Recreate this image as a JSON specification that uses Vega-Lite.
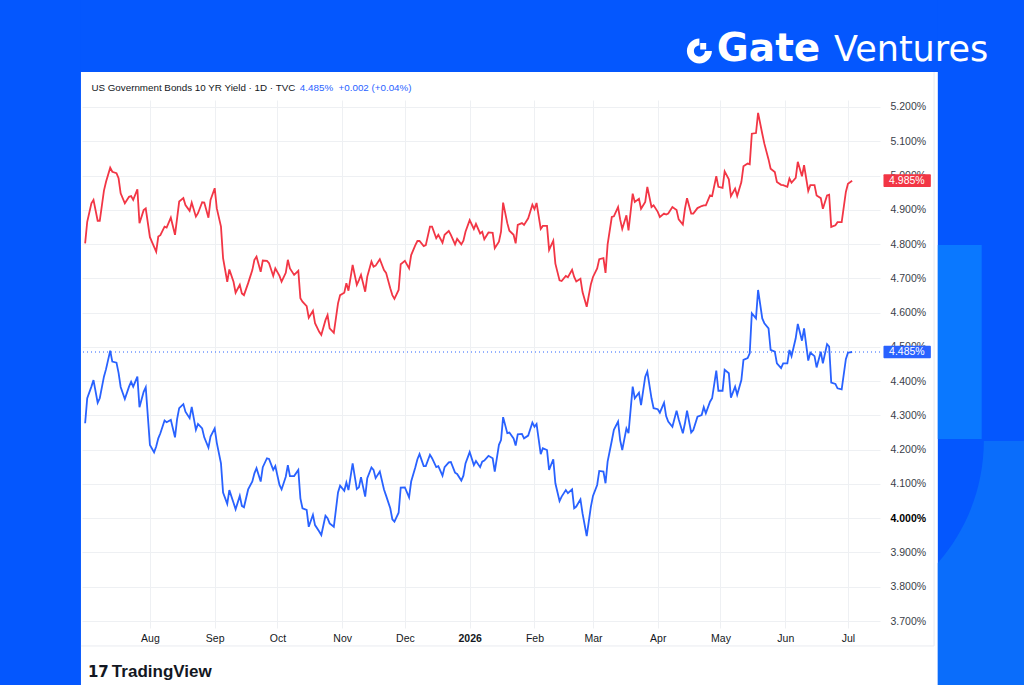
{
  "$schema": "https://vega.github.io/schema/vega-lite/v6.json",
  "width": 798,
  "height": 528,
  "autosize": {"type": "none"},
  "padding": {"left": 82, "top": 100, "right": 144, "bottom": 57},
  "background": "#ffffff",
  "config": {"view": {"stroke": null}, "font": "Liberation Sans"},
  "resolve": {"axis": {"x": "independent", "y": "independent"}},
  "layer": [
    {
      "data": {"values": [{}]},
      "mark": {"type": "rect", "color": "#0457fe"},
      "encoding": {
        "x": {"datum": {"year": 2025, "month": 5, "date": 1, "utc": true}, "type": "temporal", "axis": null},
        "x2": {"datum": {"year": 2026, "month": 10, "date": 15, "utc": true}},
        "y": {"datum": 5.302, "type": "quantitative", "axis": null},
        "y2": {"datum": 5.7}
      }
    },
    {
      "data": {"values": [{}]},
      "mark": {"type": "rect", "color": "#0457fe"},
      "encoding": {
        "x": {"datum": {"year": 2025, "month": 5, "date": 1, "utc": true}, "type": "temporal", "axis": null},
        "x2": {"datum": {"year": 2025, "month": 6, "date": 29, "utc": true}},
        "y": {"datum": 3.3, "type": "quantitative", "axis": null},
        "y2": {"datum": 5.7}
      }
    },
    {
      "data": {"values": [{}]},
      "mark": {"type": "rect", "color": "#0457fe"},
      "encoding": {
        "x": {"datum": {"year": 2026, "month": 8, "date": 13, "utc": true}, "type": "temporal", "axis": null},
        "x2": {"datum": {"year": 2026, "month": 10, "date": 15, "utc": true}},
        "y": {"datum": 3.3, "type": "quantitative", "axis": null},
        "y2": {"datum": 5.7}
      }
    },
    {
      "data": {"values": [{}]},
      "mark": {"type": "rect", "color": "#0a78ff"},
      "encoding": {
        "x": {"datum": {"year": 2026, "month": 8, "date": 13, "utc": true}, "type": "temporal", "axis": null},
        "x2": {"datum": {"year": 2026, "month": 9, "date": 3, "utc": true}},
        "y": {"datum": 4.231, "type": "quantitative", "axis": null},
        "y2": {"datum": 4.797}
      }
    },
    {
      "data": {"values": [{}]},
      "mark": {
        "type": "point",
        "shape": "M46,0L100,0L100,260L0,260L0,122A185,185,0,0,0,46,0Z",
        "size": 4,
        "filled": true,
        "opacity": 1,
        "strokeWidth": 0,
        "color": "#0a6dfb"
      },
      "encoding": {
        "x": {"datum": {"year": 2026, "month": 8, "date": 13, "utc": true}, "type": "temporal", "axis": null},
        "y": {"datum": 4.2254, "type": "quantitative", "axis": null}
      }
    },
    {
      "data": {"values": [{}]},
      "mark": {
        "type": "point",
        "shape": "M12.5,0A12.5,12.5,0,1,1,0,-12.5L0,-5.5A5.5,5.5,0,1,0,5.5,0ZM0.8,-8L6.8,-8L6.8,-1.6L0.8,-1.6Z",
        "size": 4,
        "filled": true,
        "opacity": 1,
        "strokeWidth": 0,
        "color": "#ffffff"
      },
      "encoding": {
        "x": {"datum": {"year": 2026, "month": 4, "date": 20, "hours": 22, "utc": true}, "type": "temporal", "axis": null},
        "y": {"datum": 5.3634, "type": "quantitative", "axis": null}
      }
    },
    {
      "data": {"values": [{}]},
      "mark": {"type": "text", "text": "Gate", "font": "DejaVu Sans", "fontWeight": "bold", "fontSize": 39, "color": "#ffffff", "align": "center", "baseline": "alphabetic"},
      "encoding": {
        "x": {"datum": {"year": 2026, "month": 5, "date": 24, "utc": true}, "type": "temporal", "axis": null},
        "y": {"datum": 5.334, "type": "quantitative", "axis": null}
      }
    },
    {
      "data": {"values": [{}]},
      "mark": {"type": "text", "text": "Ventures", "font": "DejaVu Sans", "fontSize": 35, "color": "#ffffff", "align": "left", "baseline": "alphabetic"},
      "encoding": {
        "x": {"datum": {"year": 2026, "month": 6, "date": 24, "hours": 7, "utc": true}, "type": "temporal", "axis": null},
        "y": {"datum": 5.334, "type": "quantitative", "axis": null}
      }
    },
    {
      "data": {"values": [{}]},
      "mark": {"type": "rule", "color": "#e9ebf0", "strokeWidth": 1},
      "encoding": {
        "x": {"datum": {"year": 2025, "month": 6, "date": 29, "utc": true}, "type": "temporal", "axis": null},
        "x2": {"datum": {"year": 2026, "month": 8, "date": 11, "hours": 5, "utc": true}},
        "y": {"datum": 3.6272, "type": "quantitative", "axis": null}
      }
    },
    {
      "data": {"values": [{}]},
      "mark": {"type": "rule", "color": "#e9ebf0", "strokeWidth": 1},
      "encoding": {
        "x": {"datum": {"year": 2026, "month": 8, "date": 11, "hours": 5, "utc": true}, "type": "temporal", "axis": null},
        "y": {"datum": 3.6272, "type": "quantitative", "axis": null},
        "y2": {"datum": 5.302}
      }
    },
    {
      "data": {"values": [{}]},
      "mark": {"type": "text", "text": "US Government Bonds 10 YR Yield · 1D · TVC", "fontSize": 9.8, "color": "#131722", "align": "left", "baseline": "middle"},
      "encoding": {
        "x": {"datum": {"year": 2025, "month": 7, "date": 4, "utc": true}, "type": "temporal", "axis": null},
        "y": {"datum": 5.2554, "type": "quantitative", "axis": null}
      }
    },
    {
      "data": {"values": [{}]},
      "mark": {"type": "text", "text": "4.485%\u00a0 +0.002 (+0.04%)", "fontSize": 9.8, "color": "#2962ff", "align": "left", "baseline": "middle"},
      "encoding": {
        "x": {"datum": {"year": 2025, "month": 10, "date": 11, "hours": 18, "utc": true}, "type": "temporal", "axis": null},
        "y": {"datum": 5.2554, "type": "quantitative", "axis": null}
      }
    },
    {
      "data": {"values": [{}]},
      "mark": {"type": "rule", "color": "#2962ff", "strokeWidth": 1, "strokeDash": [1, 3]},
      "encoding": {
        "y": {"datum": 4.485, "type": "quantitative", "axis": null}
      }
    },
    {
      "data": {
        "values": [
          {"date": "2025-07-01", "US30Y": 4.802, "US10Y": 4.277},
          {"date": "2025-07-02", "US30Y": 4.865, "US10Y": 4.350},
          {"date": "2025-07-04", "US30Y": 4.919, "US10Y": 4.384},
          {"date": "2025-07-05", "US30Y": 4.929, "US10Y": 4.403},
          {"date": "2025-07-07", "US30Y": 4.868, "US10Y": 4.337},
          {"date": "2025-07-08", "US30Y": 4.868, "US10Y": 4.350},
          {"date": "2025-07-10", "US30Y": 4.956, "US10Y": 4.413},
          {"date": "2025-07-11", "US30Y": 4.982, "US10Y": 4.435},
          {"date": "2025-07-13", "US30Y": 5.023, "US10Y": 4.489},
          {"date": "2025-07-14", "US30Y": 5.011, "US10Y": 4.457},
          {"date": "2025-07-16", "US30Y": 5.007, "US10Y": 4.454},
          {"date": "2025-07-17", "US30Y": 4.992, "US10Y": 4.424},
          {"date": "2025-07-18", "US30Y": 4.948, "US10Y": 4.383},
          {"date": "2025-07-20", "US30Y": 4.919, "US10Y": 4.348},
          {"date": "2025-07-22", "US30Y": 4.938, "US10Y": 4.384},
          {"date": "2025-07-23", "US30Y": 4.940, "US10Y": 4.398},
          {"date": "2025-07-24", "US30Y": 4.929, "US10Y": 4.384},
          {"date": "2025-07-26", "US30Y": 4.960, "US10Y": 4.413},
          {"date": "2025-07-27", "US30Y": 4.861, "US10Y": 4.324},
          {"date": "2025-07-29", "US30Y": 4.899, "US10Y": 4.369},
          {"date": "2025-07-30", "US30Y": 4.904, "US10Y": 4.382},
          {"date": "2025-08-01", "US30Y": 4.820, "US10Y": 4.214},
          {"date": "2025-08-03", "US30Y": 4.792, "US10Y": 4.192},
          {"date": "2025-08-04", "US30Y": 4.778, "US10Y": 4.209},
          {"date": "2025-08-05", "US30Y": 4.822, "US10Y": 4.233},
          {"date": "2025-08-06", "US30Y": 4.826, "US10Y": 4.248},
          {"date": "2025-08-08", "US30Y": 4.851, "US10Y": 4.285},
          {"date": "2025-08-09", "US30Y": 4.848, "US10Y": 4.280},
          {"date": "2025-08-11", "US30Y": 4.877, "US10Y": 4.287},
          {"date": "2025-08-13", "US30Y": 4.827, "US10Y": 4.236},
          {"date": "2025-08-14", "US30Y": 4.875, "US10Y": 4.289},
          {"date": "2025-08-15", "US30Y": 4.924, "US10Y": 4.321},
          {"date": "2025-08-17", "US30Y": 4.934, "US10Y": 4.333},
          {"date": "2025-08-18", "US30Y": 4.914, "US10Y": 4.311},
          {"date": "2025-08-20", "US30Y": 4.897, "US10Y": 4.292},
          {"date": "2025-08-21", "US30Y": 4.921, "US10Y": 4.325},
          {"date": "2025-08-23", "US30Y": 4.880, "US10Y": 4.258},
          {"date": "2025-08-24", "US30Y": 4.890, "US10Y": 4.275},
          {"date": "2025-08-26", "US30Y": 4.922, "US10Y": 4.262},
          {"date": "2025-08-27", "US30Y": 4.921, "US10Y": 4.236},
          {"date": "2025-08-29", "US30Y": 4.877, "US10Y": 4.206},
          {"date": "2025-08-30", "US30Y": 4.929, "US10Y": 4.238},
          {"date": "2025-09-01", "US30Y": 4.963, "US10Y": 4.262},
          {"date": "2025-09-02", "US30Y": 4.904, "US10Y": 4.220},
          {"date": "2025-09-04", "US30Y": 4.851, "US10Y": 4.160},
          {"date": "2025-09-05", "US30Y": 4.759, "US10Y": 4.075},
          {"date": "2025-09-07", "US30Y": 4.690, "US10Y": 4.042},
          {"date": "2025-09-08", "US30Y": 4.726, "US10Y": 4.082},
          {"date": "2025-09-10", "US30Y": 4.690, "US10Y": 4.045},
          {"date": "2025-09-11", "US30Y": 4.658, "US10Y": 4.026},
          {"date": "2025-09-13", "US30Y": 4.681, "US10Y": 4.065},
          {"date": "2025-09-14", "US30Y": 4.656, "US10Y": 4.036},
          {"date": "2025-09-15", "US30Y": 4.651, "US10Y": 4.032},
          {"date": "2025-09-17", "US30Y": 4.686, "US10Y": 4.084},
          {"date": "2025-09-19", "US30Y": 4.724, "US10Y": 4.107},
          {"date": "2025-09-20", "US30Y": 4.754, "US10Y": 4.131},
          {"date": "2025-09-21", "US30Y": 4.763, "US10Y": 4.146},
          {"date": "2025-09-23", "US30Y": 4.719, "US10Y": 4.107},
          {"date": "2025-09-24", "US30Y": 4.752, "US10Y": 4.149},
          {"date": "2025-09-26", "US30Y": 4.751, "US10Y": 4.175},
          {"date": "2025-09-27", "US30Y": 4.744, "US10Y": 4.173},
          {"date": "2025-09-29", "US30Y": 4.707, "US10Y": 4.141},
          {"date": "2025-09-30", "US30Y": 4.729, "US10Y": 4.152},
          {"date": "2025-10-02", "US30Y": 4.707, "US10Y": 4.097},
          {"date": "2025-10-03", "US30Y": 4.690, "US10Y": 4.084},
          {"date": "2025-10-05", "US30Y": 4.716, "US10Y": 4.121},
          {"date": "2025-10-06", "US30Y": 4.754, "US10Y": 4.155},
          {"date": "2025-10-07", "US30Y": 4.729, "US10Y": 4.123},
          {"date": "2025-10-09", "US30Y": 4.710, "US10Y": 4.123},
          {"date": "2025-10-11", "US30Y": 4.722, "US10Y": 4.141},
          {"date": "2025-10-12", "US30Y": 4.642, "US10Y": 4.058},
          {"date": "2025-10-13", "US30Y": 4.632, "US10Y": 4.029},
          {"date": "2025-10-15", "US30Y": 4.619, "US10Y": 4.024},
          {"date": "2025-10-16", "US30Y": 4.585, "US10Y": 3.975},
          {"date": "2025-10-18", "US30Y": 4.605, "US10Y": 4.010},
          {"date": "2025-10-19", "US30Y": 4.569, "US10Y": 3.980},
          {"date": "2025-10-21", "US30Y": 4.544, "US10Y": 3.961},
          {"date": "2025-10-22", "US30Y": 4.535, "US10Y": 3.951},
          {"date": "2025-10-24", "US30Y": 4.578, "US10Y": 4.007},
          {"date": "2025-10-25", "US30Y": 4.593, "US10Y": 4.000},
          {"date": "2025-10-26", "US30Y": 4.554, "US10Y": 3.985},
          {"date": "2025-10-28", "US30Y": 4.541, "US10Y": 3.975},
          {"date": "2025-10-30", "US30Y": 4.627, "US10Y": 4.075},
          {"date": "2025-10-31", "US30Y": 4.651, "US10Y": 4.095},
          {"date": "2025-11-02", "US30Y": 4.658, "US10Y": 4.080},
          {"date": "2025-11-03", "US30Y": 4.686, "US10Y": 4.104},
          {"date": "2025-11-04", "US30Y": 4.664, "US10Y": 4.082},
          {"date": "2025-11-06", "US30Y": 4.739, "US10Y": 4.160},
          {"date": "2025-11-08", "US30Y": 4.681, "US10Y": 4.085},
          {"date": "2025-11-09", "US30Y": 4.695, "US10Y": 4.090},
          {"date": "2025-11-10", "US30Y": 4.710, "US10Y": 4.120},
          {"date": "2025-11-12", "US30Y": 4.661, "US10Y": 4.063},
          {"date": "2025-11-13", "US30Y": 4.705, "US10Y": 4.117},
          {"date": "2025-11-15", "US30Y": 4.749, "US10Y": 4.148},
          {"date": "2025-11-16", "US30Y": 4.734, "US10Y": 4.141},
          {"date": "2025-11-17", "US30Y": 4.737, "US10Y": 4.117},
          {"date": "2025-11-19", "US30Y": 4.756, "US10Y": 4.136},
          {"date": "2025-11-21", "US30Y": 4.724, "US10Y": 4.084},
          {"date": "2025-11-22", "US30Y": 4.716, "US10Y": 4.066},
          {"date": "2025-11-24", "US30Y": 4.671, "US10Y": 4.029},
          {"date": "2025-11-25", "US30Y": 4.651, "US10Y": 3.997},
          {"date": "2025-11-26", "US30Y": 4.640, "US10Y": 3.990},
          {"date": "2025-11-28", "US30Y": 4.666, "US10Y": 4.016},
          {"date": "2025-11-29", "US30Y": 4.741, "US10Y": 4.089},
          {"date": "2025-12-01", "US30Y": 4.751, "US10Y": 4.090},
          {"date": "2025-12-03", "US30Y": 4.729, "US10Y": 4.061},
          {"date": "2025-12-04", "US30Y": 4.768, "US10Y": 4.107},
          {"date": "2025-12-06", "US30Y": 4.797, "US10Y": 4.149},
          {"date": "2025-12-07", "US30Y": 4.809, "US10Y": 4.172},
          {"date": "2025-12-08", "US30Y": 4.809, "US10Y": 4.187},
          {"date": "2025-12-10", "US30Y": 4.794, "US10Y": 4.152},
          {"date": "2025-12-11", "US30Y": 4.797, "US10Y": 4.152},
          {"date": "2025-12-13", "US30Y": 4.851, "US10Y": 4.185},
          {"date": "2025-12-14", "US30Y": 4.851, "US10Y": 4.175},
          {"date": "2025-12-16", "US30Y": 4.817, "US10Y": 4.149},
          {"date": "2025-12-17", "US30Y": 4.827, "US10Y": 4.152},
          {"date": "2025-12-19", "US30Y": 4.804, "US10Y": 4.124},
          {"date": "2025-12-20", "US30Y": 4.827, "US10Y": 4.149},
          {"date": "2025-12-22", "US30Y": 4.838, "US10Y": 4.163},
          {"date": "2025-12-23", "US30Y": 4.827, "US10Y": 4.164},
          {"date": "2025-12-25", "US30Y": 4.799, "US10Y": 4.133},
          {"date": "2025-12-26", "US30Y": 4.815, "US10Y": 4.129},
          {"date": "2025-12-28", "US30Y": 4.799, "US10Y": 4.110},
          {"date": "2025-12-29", "US30Y": 4.810, "US10Y": 4.124},
          {"date": "2025-12-30", "US30Y": 4.836, "US10Y": 4.160},
          {"date": "2026-01-01", "US30Y": 4.870, "US10Y": 4.193},
          {"date": "2026-01-03", "US30Y": 4.844, "US10Y": 4.155},
          {"date": "2026-01-04", "US30Y": 4.859, "US10Y": 4.167},
          {"date": "2026-01-06", "US30Y": 4.831, "US10Y": 4.149},
          {"date": "2026-01-07", "US30Y": 4.836, "US10Y": 4.165},
          {"date": "2026-01-08", "US30Y": 4.814, "US10Y": 4.168},
          {"date": "2026-01-10", "US30Y": 4.834, "US10Y": 4.182},
          {"date": "2026-01-12", "US30Y": 4.833, "US10Y": 4.175},
          {"date": "2026-01-13", "US30Y": 4.788, "US10Y": 4.136},
          {"date": "2026-01-15", "US30Y": 4.807, "US10Y": 4.214},
          {"date": "2026-01-16", "US30Y": 4.836, "US10Y": 4.228},
          {"date": "2026-01-17", "US30Y": 4.921, "US10Y": 4.295},
          {"date": "2026-01-19", "US30Y": 4.861, "US10Y": 4.248},
          {"date": "2026-01-20", "US30Y": 4.839, "US10Y": 4.250},
          {"date": "2026-01-22", "US30Y": 4.827, "US10Y": 4.233},
          {"date": "2026-01-23", "US30Y": 4.802, "US10Y": 4.212},
          {"date": "2026-01-24", "US30Y": 4.856, "US10Y": 4.245},
          {"date": "2026-01-26", "US30Y": 4.861, "US10Y": 4.246},
          {"date": "2026-01-27", "US30Y": 4.856, "US10Y": 4.233},
          {"date": "2026-01-29", "US30Y": 4.875, "US10Y": 4.241},
          {"date": "2026-01-31", "US30Y": 4.915, "US10Y": 4.279},
          {"date": "2026-02-01", "US30Y": 4.902, "US10Y": 4.267},
          {"date": "2026-02-02", "US30Y": 4.920, "US10Y": 4.275},
          {"date": "2026-02-04", "US30Y": 4.844, "US10Y": 4.187},
          {"date": "2026-02-05", "US30Y": 4.853, "US10Y": 4.204},
          {"date": "2026-02-07", "US30Y": 4.853, "US10Y": 4.199},
          {"date": "2026-02-08", "US30Y": 4.783, "US10Y": 4.141},
          {"date": "2026-02-10", "US30Y": 4.810, "US10Y": 4.172},
          {"date": "2026-02-11", "US30Y": 4.743, "US10Y": 4.102},
          {"date": "2026-02-13", "US30Y": 4.694, "US10Y": 4.050},
          {"date": "2026-02-14", "US30Y": 4.692, "US10Y": 4.063},
          {"date": "2026-02-16", "US30Y": 4.707, "US10Y": 4.082},
          {"date": "2026-02-17", "US30Y": 4.703, "US10Y": 4.073},
          {"date": "2026-02-19", "US30Y": 4.725, "US10Y": 4.084},
          {"date": "2026-02-20", "US30Y": 4.704, "US10Y": 4.029},
          {"date": "2026-02-21", "US30Y": 4.691, "US10Y": 4.034},
          {"date": "2026-02-23", "US30Y": 4.699, "US10Y": 4.055},
          {"date": "2026-02-24", "US30Y": 4.660, "US10Y": 4.014},
          {"date": "2026-02-26", "US30Y": 4.617, "US10Y": 3.948},
          {"date": "2026-02-28", "US30Y": 4.683, "US10Y": 4.034},
          {"date": "2026-03-01", "US30Y": 4.704, "US10Y": 4.065},
          {"date": "2026-03-03", "US30Y": 4.729, "US10Y": 4.097},
          {"date": "2026-03-04", "US30Y": 4.756, "US10Y": 4.138},
          {"date": "2026-03-06", "US30Y": 4.759, "US10Y": 4.136},
          {"date": "2026-03-07", "US30Y": 4.716, "US10Y": 4.102},
          {"date": "2026-03-08", "US30Y": 4.799, "US10Y": 4.165},
          {"date": "2026-03-10", "US30Y": 4.879, "US10Y": 4.226},
          {"date": "2026-03-11", "US30Y": 4.881, "US10Y": 4.258},
          {"date": "2026-03-13", "US30Y": 4.908, "US10Y": 4.282},
          {"date": "2026-03-14", "US30Y": 4.872, "US10Y": 4.228},
          {"date": "2026-03-15", "US30Y": 4.844, "US10Y": 4.199},
          {"date": "2026-03-17", "US30Y": 4.884, "US10Y": 4.262},
          {"date": "2026-03-18", "US30Y": 4.840, "US10Y": 4.248},
          {"date": "2026-03-20", "US30Y": 4.947, "US10Y": 4.384},
          {"date": "2026-03-21", "US30Y": 4.923, "US10Y": 4.350},
          {"date": "2026-03-23", "US30Y": 4.932, "US10Y": 4.366},
          {"date": "2026-03-24", "US30Y": 4.903, "US10Y": 4.330},
          {"date": "2026-03-26", "US30Y": 4.923, "US10Y": 4.413},
          {"date": "2026-03-27", "US30Y": 4.967, "US10Y": 4.428},
          {"date": "2026-03-29", "US30Y": 4.908, "US10Y": 4.350},
          {"date": "2026-03-30", "US30Y": 4.913, "US10Y": 4.321},
          {"date": "2026-04-01", "US30Y": 4.894, "US10Y": 4.318},
          {"date": "2026-04-02", "US30Y": 4.879, "US10Y": 4.308},
          {"date": "2026-04-04", "US30Y": 4.889, "US10Y": 4.337},
          {"date": "2026-04-05", "US30Y": 4.886, "US10Y": 4.298},
          {"date": "2026-04-06", "US30Y": 4.889, "US10Y": 4.282},
          {"date": "2026-04-08", "US30Y": 4.908, "US10Y": 4.267},
          {"date": "2026-04-10", "US30Y": 4.899, "US10Y": 4.314},
          {"date": "2026-04-11", "US30Y": 4.872, "US10Y": 4.289},
          {"date": "2026-04-13", "US30Y": 4.857, "US10Y": 4.248},
          {"date": "2026-04-14", "US30Y": 4.903, "US10Y": 4.277},
          {"date": "2026-04-15", "US30Y": 4.934, "US10Y": 4.314},
          {"date": "2026-04-17", "US30Y": 4.889, "US10Y": 4.250},
          {"date": "2026-04-18", "US30Y": 4.889, "US10Y": 4.257},
          {"date": "2026-04-20", "US30Y": 4.905, "US10Y": 4.296},
          {"date": "2026-04-22", "US30Y": 4.911, "US10Y": 4.301},
          {"date": "2026-04-23", "US30Y": 4.913, "US10Y": 4.324},
          {"date": "2026-04-24", "US30Y": 4.913, "US10Y": 4.306},
          {"date": "2026-04-26", "US30Y": 4.942, "US10Y": 4.340},
          {"date": "2026-04-27", "US30Y": 4.940, "US10Y": 4.350},
          {"date": "2026-04-29", "US30Y": 4.998, "US10Y": 4.431},
          {"date": "2026-04-30", "US30Y": 4.967, "US10Y": 4.372},
          {"date": "2026-05-02", "US30Y": 4.964, "US10Y": 4.372},
          {"date": "2026-05-03", "US30Y": 5.012, "US10Y": 4.433},
          {"date": "2026-05-05", "US30Y": 4.989, "US10Y": 4.423},
          {"date": "2026-05-06", "US30Y": 4.940, "US10Y": 4.352},
          {"date": "2026-05-08", "US30Y": 4.962, "US10Y": 4.384},
          {"date": "2026-05-09", "US30Y": 4.940, "US10Y": 4.360},
          {"date": "2026-05-11", "US30Y": 4.981, "US10Y": 4.403},
          {"date": "2026-05-12", "US30Y": 5.027, "US10Y": 4.462},
          {"date": "2026-05-14", "US30Y": 5.035, "US10Y": 4.467},
          {"date": "2026-05-15", "US30Y": 5.033, "US10Y": 4.481},
          {"date": "2026-05-16", "US30Y": 5.122, "US10Y": 4.598},
          {"date": "2026-05-18", "US30Y": 5.124, "US10Y": 4.583},
          {"date": "2026-05-19", "US30Y": 5.183, "US10Y": 4.666},
          {"date": "2026-05-21", "US30Y": 5.122, "US10Y": 4.583},
          {"date": "2026-05-22", "US30Y": 5.093, "US10Y": 4.569},
          {"date": "2026-05-24", "US30Y": 5.047, "US10Y": 4.554},
          {"date": "2026-05-25", "US30Y": 5.020, "US10Y": 4.491},
          {"date": "2026-05-27", "US30Y": 5.010, "US10Y": 4.486},
          {"date": "2026-05-28", "US30Y": 4.981, "US10Y": 4.452},
          {"date": "2026-05-30", "US30Y": 4.973, "US10Y": 4.438},
          {"date": "2026-05-31", "US30Y": 4.972, "US10Y": 4.452},
          {"date": "2026-06-02", "US30Y": 4.967, "US10Y": 4.452},
          {"date": "2026-06-03", "US30Y": 4.991, "US10Y": 4.491},
          {"date": "2026-06-04", "US30Y": 4.979, "US10Y": 4.473},
          {"date": "2026-06-06", "US30Y": 4.993, "US10Y": 4.525},
          {"date": "2026-06-07", "US30Y": 5.040, "US10Y": 4.567},
          {"date": "2026-06-09", "US30Y": 4.998, "US10Y": 4.518},
          {"date": "2026-06-10", "US30Y": 5.030, "US10Y": 4.554},
          {"date": "2026-06-12", "US30Y": 4.955, "US10Y": 4.460},
          {"date": "2026-06-13", "US30Y": 4.972, "US10Y": 4.483},
          {"date": "2026-06-15", "US30Y": 4.972, "US10Y": 4.473},
          {"date": "2026-06-16", "US30Y": 4.942, "US10Y": 4.440},
          {"date": "2026-06-18", "US30Y": 4.934, "US10Y": 4.486},
          {"date": "2026-06-19", "US30Y": 4.903, "US10Y": 4.452},
          {"date": "2026-06-21", "US30Y": 4.942, "US10Y": 4.508},
          {"date": "2026-06-22", "US30Y": 4.944, "US10Y": 4.501},
          {"date": "2026-06-23", "US30Y": 4.850, "US10Y": 4.396},
          {"date": "2026-06-25", "US30Y": 4.855, "US10Y": 4.392},
          {"date": "2026-06-26", "US30Y": 4.864, "US10Y": 4.379},
          {"date": "2026-06-28", "US30Y": 4.864, "US10Y": 4.376},
          {"date": "2026-06-30", "US30Y": 4.952, "US10Y": 4.464},
          {"date": "2026-07-01", "US30Y": 4.976, "US10Y": 4.483},
          {"date": "2026-07-03", "US30Y": 4.985, "US10Y": 4.485}
        ]
      },
      "transform": [{"fold": ["US30Y", "US10Y"], "as": ["series", "value"]}],
      "mark": {"type": "line", "strokeWidth": 1.8},
      "encoding": {
        "x": {
          "field": "date",
          "type": "temporal",
          "scale": {
            "type": "utc",
            "domain": [
              {"year": 2025, "month": 6, "date": 29, "hours": 12, "utc": true},
              {"year": 2026, "month": 7, "date": 16, "hours": 8, "utc": true}
            ]
          },
          "axis": {
            "title": null,
            "orient": "bottom",
            "grid": true,
            "gridColor": "#eef0f3",
            "ticks": false,
            "domain": false,
            "labelOverlap": false,
            "labelPadding": 5,
            "labelFontSize": 10.5,
            "labelColor": "#131722",
            "labelFontWeight": {"condition": {"test": "utcmonth(datum.value)==0", "value": "bold"}, "value": "normal"},
            "labelExpr": "utcmonth(datum.value)==0 ? utcFormat(datum.value,'%Y') : utcFormat(datum.value,'%b')",
            "values": [
              {"year": 2025, "month": 8, "date": 1, "utc": true},
              {"year": 2025, "month": 9, "date": 1, "utc": true},
              {"year": 2025, "month": 10, "date": 1, "utc": true},
              {"year": 2025, "month": 11, "date": 1, "utc": true},
              {"year": 2025, "month": 12, "date": 1, "utc": true},
              {"year": 2026, "month": 1, "date": 1, "utc": true},
              {"year": 2026, "month": 2, "date": 1, "utc": true},
              {"year": 2026, "month": 3, "date": 1, "utc": true},
              {"year": 2026, "month": 4, "date": 1, "utc": true},
              {"year": 2026, "month": 5, "date": 1, "utc": true},
              {"year": 2026, "month": 6, "date": 1, "utc": true},
              {"year": 2026, "month": 7, "date": 1, "utc": true}
            ]
          }
        },
        "y": {
          "field": "value",
          "type": "quantitative",
          "scale": {"domain": [3.6796, 5.2204], "nice": false, "zero": false},
          "axis": {
            "title": null,
            "orient": "right",
            "grid": true,
            "gridColor": "#eef0f3",
            "ticks": false,
            "domain": false,
            "labelOverlap": false,
            "labelFlush": false,
            "labelPadding": 10,
            "labelAlign": "left",
            "labelFontSize": 10.5,
            "labelColor": {"condition": {"test": "abs(datum.value-4)<0.001", "value": "#000000"}, "value": "#3a3e4a"},
            "labelFontWeight": {"condition": {"test": "abs(datum.value-4)<0.001", "value": "bold"}, "value": "normal"},
            "labelExpr": "format(datum.value,'.3f')+'%'",
            "values": [3.7, 3.8, 3.9, 4.0, 4.1, 4.2, 4.3, 4.4, 4.5, 4.6, 4.7, 4.8, 4.9, 5.0, 5.1, 5.2]
          }
        },
        "color": {
          "field": "series",
          "type": "nominal",
          "scale": {"domain": ["US30Y", "US10Y"], "range": ["#f23645", "#2962ff"]},
          "legend": null
        }
      }
    },
    {
      "data": {"values": [{}]},
      "mark": {"type": "rect", "color": "#f23645", "cornerRadius": 1},
      "encoding": {
        "x": {"datum": {"year": 2026, "month": 7, "date": 18, "utc": true}, "type": "temporal", "axis": null},
        "x2": {"datum": {"year": 2026, "month": 8, "date": 9, "hours": 16, "utc": true}},
        "y": {"datum": 4.9665, "type": "quantitative", "axis": null},
        "y2": {"datum": 5.0035}
      }
    },
    {
      "data": {"values": [{}]},
      "mark": {"type": "rect", "color": "#2962ff", "cornerRadius": 1},
      "encoding": {
        "x": {"datum": {"year": 2026, "month": 7, "date": 18, "utc": true}, "type": "temporal", "axis": null},
        "x2": {"datum": {"year": 2026, "month": 8, "date": 9, "hours": 16, "utc": true}},
        "y": {"datum": 4.4665, "type": "quantitative", "axis": null},
        "y2": {"datum": 4.5035}
      }
    },
    {
      "data": {"values": [{}]},
      "mark": {"type": "text", "text": "4.985%", "fontSize": 10.5, "color": "#ffffff", "align": "center", "baseline": "middle"},
      "encoding": {
        "x": {"datum": {"year": 2026, "month": 7, "date": 29, "hours": 5, "utc": true}, "type": "temporal", "axis": null},
        "y": {"datum": 4.985, "type": "quantitative", "axis": null}
      }
    },
    {
      "data": {"values": [{}]},
      "mark": {"type": "text", "text": "4.485%", "fontSize": 10.5, "color": "#ffffff", "align": "center", "baseline": "middle"},
      "encoding": {
        "x": {"datum": {"year": 2026, "month": 7, "date": 29, "hours": 5, "utc": true}, "type": "temporal", "axis": null},
        "y": {"datum": 4.485, "type": "quantitative", "axis": null}
      }
    },
    {
      "data": {"values": [{}]},
      "mark": {"type": "text", "text": "17", "font": "DejaVu Sans", "fontWeight": "bold", "fontSize": 15, "color": "#131722", "align": "left", "baseline": "middle"},
      "encoding": {
        "x": {"datum": {"year": 2025, "month": 7, "date": 2, "hours": 8, "utc": true}, "type": "temporal", "axis": null},
        "y": {"datum": 3.5513, "type": "quantitative", "axis": null}
      }
    },
    {
      "data": {"values": [{}]},
      "mark": {"type": "text", "text": "TradingView", "fontWeight": "bold", "fontSize": 17, "color": "#131722", "align": "left", "baseline": "middle"},
      "encoding": {
        "x": {"datum": {"year": 2025, "month": 7, "date": 13, "hours": 19, "utc": true}, "type": "temporal", "axis": null},
        "y": {"datum": 3.5513, "type": "quantitative", "axis": null}
      }
    }
  ]
}
